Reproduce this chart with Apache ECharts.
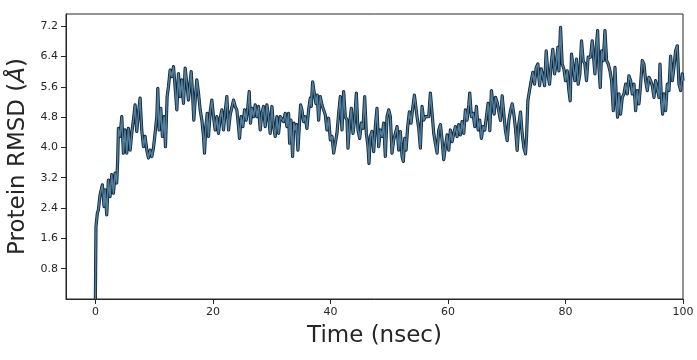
<!DOCTYPE html>
<html>
<head>
<meta charset="utf-8">
<script src="https://cdn.jsdelivr.net/npm/echarts@6/dist/echarts.min.js"></script>
<style>
html,body{margin:0;padding:0;background:#fff;}
#chart{width:697px;height:360px;}
</style>
</head>
<body>
<div id="chart"></div>
<script>
// [time (nsec), RMSD (Å)]
const segA = [[0,0],[0.1,1.91],[0.34,2.27],[0.51,2.35],[0.8,2.75],[1.19,3.01],[1.48,2.44],[1.65,2.88],[1.93,2.22],[2.21,3.14],[2.5,2.7],[2.78,3.28],[3.07,2.79],[3.35,3.32],[3.63,3.06],[3.8,3.67],[3.92,4.5],[4.2,4.29],[4.49,4.81],[4.77,3.85],[5.05,4.46],[5.34,3.85],[5.62,4.5],[5.91,3.93],[6.19,4.37],[6.47,4.72],[6.76,5.12],[7.04,4.42],[7.33,4.9],[7.61,5.3],[7.89,4.46],[8.18,4.02],[8.46,4.29],[8.75,3.93],[9.03,3.72],[9.31,3.93],[9.6,3.76],[9.88,3.98],[10.16,4.37],[10.45,4.81],[10.62,5.56],[10.85,4.46],[11.13,5.03],[11.41,4.29],[11.7,4.81],[11.93,4.02],[12.21,5.34],[12.44,5.6],[12.72,6.04],[13.01,5.87],[13.29,6.13],[13.57,5.6],[13.86,4.99],[14.14,5.95],[14.42,5.34],[14.71,5.78],[14.99,5.16],[15.28,6.09],[15.56,5.69],[15.84,5.25],[16.13,5.73]];
const segB = [[16.3,6.0],[16.53,5.43],[16.75,4.72],[16.98,5.25],[17.26,5.78],[17.55,5.43],[17.83,4.99],[18.12,4.72],[18.4,4.29],[18.57,3.85],[18.8,4.55],[19.03,4.9],[19.25,4.29],[19.54,4.94],[19.82,5.25],[20.1,4.81],[20.39,4.46],[20.67,4.81],[20.95,4.37],[21.24,4.77],[21.52,4.99],[21.8,4.46],[22.09,4.94],[22.37,5.34],[22.66,4.46],[22.94,4.86],[23.22,4.81],[23.51,5.25],[23.79,5.08],[24.07,4.99],[24.36,4.55],[24.53,4.24],[24.81,4.81],[25.1,4.55],[25.38,4.99],[25.67,4.72],[25.95,5.08],[26.18,5.47],[26.4,4.64],[26.63,5.03],[26.92,4.81],[27.2,5.12],[27.48,4.81],[27.77,5.08],[28.05,4.46],[28.33,4.9],[28.62,5.08],[28.9,4.55],[29.19,5.12],[29.47,4.81],[29.75,4.37],[30.04,5.08],[30.32,4.55],[30.61,4.29],[30.89,4.81],[31.17,4.37],[31.46,4.81],[31.74,4.86],[32.02,4.68],[32.31,4.9],[32.59,4.55]];
const segC = [[32.88,4.9],[33.05,4.11],[33.28,4.72],[33.56,3.76],[33.79,4.64],[34.01,4.46],[34.24,4.6],[34.47,3.93],[34.7,4.55],[34.92,5.12],[35.15,4.99],[35.43,4.68],[35.72,4.81],[36.0,4.5],[36.29,4.99],[36.57,5.3],[36.74,5.08],[36.97,5.73],[37.25,5.43],[37.54,5.16],[37.76,5.38],[37.99,4.72],[38.27,5.34],[38.56,5.12],[38.84,5.16],[39.12,4.86],[39.41,4.46],[39.69,4.77],[39.98,4.2],[40.26,4.29],[40.55,3.85],[40.83,4.11],[41.11,4.37],[41.4,4.9],[41.68,5.34],[41.97,4.46],[42.25,5.47],[42.53,4.81],[42.82,4.72],[42.99,3.98],[43.27,4.64],[43.56,5.03],[43.84,4.37],[44.12,4.72],[44.41,5.43],[44.69,4.46],[44.98,4.24],[45.26,4.64],[45.54,4.5],[45.83,5.34],[46.11,4.37],[46.39,4.02],[46.56,3.58],[46.79,4.29],[47.07,4.42],[47.36,3.89],[47.64,4.55],[47.92,5.03],[48.21,4.02],[48.49,4.46],[48.78,4.29],[49.06,4.64],[49.34,3.76],[49.63,4.81]];
const segD = [[49.92,4.99],[50.2,4.81],[50.48,3.85],[50.77,4.2],[51.05,4.37],[51.34,4.55],[51.62,3.93],[51.9,4.42],[52.19,3.76],[52.41,3.63],[52.64,4.24],[52.87,3.93],[53.15,4.55],[53.44,4.94],[53.72,4.64],[54.0,5.03],[54.29,5.38],[54.46,5.43],[54.74,4.81],[55.03,4.5],[55.31,3.98],[55.59,5.08],[55.88,4.72],[56.16,4.81],[56.44,4.86],[56.73,4.81],[57.01,5.43],[57.3,4.9],[57.58,4.37],[57.86,4.11],[58.15,3.85],[58.43,4.46],[58.72,4.6],[59.0,4.2],[59.28,3.68],[59.57,4.02],[59.85,4.33],[60.13,3.93],[60.42,4.46],[60.7,4.15],[60.99,4.37],[61.27,4.55],[61.55,4.29],[61.84,4.6],[62.12,4.33],[62.4,4.68],[62.69,4.37],[62.97,4.99],[63.25,4.72],[63.54,5.12],[63.71,5.43],[63.99,4.81],[64.27,4.9],[64.56,4.55],[64.84,5.08],[65.13,4.46],[65.41,4.72],[65.69,4.24],[65.98,4.55],[66.26,4.46],[66.55,4.81],[66.83,5.16]];
const segE = [[66.95,5.06],[67.12,4.44],[67.4,5.5],[67.63,5.19],[67.86,4.88],[68.09,5.32],[68.37,5.19],[68.66,5.23],[68.94,4.71],[69.23,5.36],[69.51,4.88],[69.79,4.44],[70.08,4.18],[70.36,4.71],[70.65,4.97],[70.93,5.15],[71.21,4.88],[71.5,4.49],[71.78,3.92],[72.06,4.62],[72.35,4.93],[72.63,4.36],[72.91,4.0],[73.2,3.83],[73.37,4.27],[73.6,5.23],[73.88,5.5],[74.17,5.76],[74.45,5.98],[74.73,5.67],[75.02,6.11],[75.3,6.2],[75.59,5.63],[75.87,6.07],[76.15,5.89],[76.44,5.63],[76.72,6.55],[77.0,5.94],[77.29,5.67],[77.57,6.2],[77.85,6.59],[78.14,5.94],[78.42,6.2],[78.71,6.64],[78.88,6.02],[79.16,7.17],[79.44,6.2],[79.73,6.07],[80.01,5.76],[80.3,6.02],[80.58,5.5],[80.8,5.23],[81.03,6.46],[81.31,6.11],[81.6,5.76],[81.88,6.33],[82.16,5.67],[82.45,5.94],[82.73,6.81],[83.01,6.29],[83.3,6.2],[83.58,5.76],[83.86,6.38]];
const segF = [[84.27,6.38],[84.55,6.81],[84.78,6.38],[85.01,5.94],[85.24,6.64],[85.47,7.08],[85.69,6.11],[85.92,5.58],[86.15,6.55],[86.43,6.29],[86.72,7.08],[87.0,6.29],[87.28,6.2],[87.57,6.02],[87.85,5.76],[88.14,4.97],[88.42,6.11],[88.65,5.32],[88.87,4.8],[89.1,5.41],[89.38,4.88],[89.67,5.32],[89.95,5.41],[90.24,5.67],[90.52,5.41],[90.8,5.89],[91.09,5.76],[91.37,5.41],[91.65,5.67],[91.94,4.97],[92.22,5.5],[92.5,5.15],[92.79,5.67],[93.07,6.29],[93.35,6.2],[93.64,5.76],[93.92,5.5],[94.2,5.85],[94.49,5.76],[94.77,5.63],[95.06,5.32],[95.34,5.76],[95.62,5.72],[95.91,5.32],[96.08,6.2],[96.31,5.32],[96.53,4.88],[96.76,5.41],[97.04,4.97],[97.33,5.67],[97.61,5.5],[97.89,6.41],[98.18,5.76],[98.46,6.11],[98.74,6.55],[99.03,6.68],[99.31,5.67],[99.6,5.5],[99.88,5.94],[100.0,5.76]];
const xTicks = [0, 20, 40, 60, 80, 100];
const yTicks = [0.8, 1.6, 2.4, 3.2, 4.0, 4.8, 5.6, 6.4, 7.2];

const rmsd = segA.concat(segB, segC, segD, segE, segF);

const chart = echarts.init(document.getElementById('chart'), null, {renderer: 'canvas'});
const font = 'DejaVu Sans';
const axisCol = '#262626';
chart.setOption({
  animation: false,
  backgroundColor: '#ffffff',
  grid: {left: 66, right: 14, top: 14, bottom: 61, show: true, borderColor: axisCol, borderWidth: 1, containLabel: false, outerBoundsMode: 'none'},
  xAxis: {
    type: 'value', min: -5, max: 100,
    name: 'Time (nsec)', nameLocation: 'middle', nameGap: 26,
    nameTextStyle: {fontFamily: font, fontSize: 23, color: axisCol},
    axisLine: {show: true, onZero: false, lineStyle: {color: axisCol, width: 1}},
    axisTick: {show: true, inside: false, length: 5, customValues: xTicks, lineStyle: {color: axisCol}},
    axisLabel: {customValues: xTicks, margin: 8, fontFamily: font, fontSize: 11, color: axisCol},
    splitLine: {show: false}
  },
  yAxis: {
    type: 'value', min: 0, max: 7.52,
    name: 'Protein RMSD ({i|Å})', nameLocation: 'middle', nameGap: 34,
    nameTextStyle: {fontFamily: font, fontSize: 23, color: axisCol,
      rich: {i: {fontFamily: font, fontStyle: 'italic', fontSize: 23, color: axisCol}}},
    axisLine: {show: true, onZero: false, lineStyle: {color: axisCol, width: 1}},
    axisTick: {show: true, inside: false, length: 5, customValues: yTicks, lineStyle: {color: axisCol}},
    axisLabel: {customValues: yTicks, margin: 8, fontFamily: font, fontSize: 11, color: axisCol,
      formatter: v => v.toFixed(1)},
    splitLine: {show: false}
  },
  series: [
    {type: 'line', data: rmsd, showSymbol: false, symbol: 'none',
      lineStyle: {color: '#0f2638', width: 3.2, join: 'round'}, z: 2},
    {type: 'line', data: rmsd, showSymbol: false, symbol: 'none',
      lineStyle: {color: '#527d9b', width: 1.5, join: 'round'}, z: 3}
  ]
});
</script>
</body>
</html>
